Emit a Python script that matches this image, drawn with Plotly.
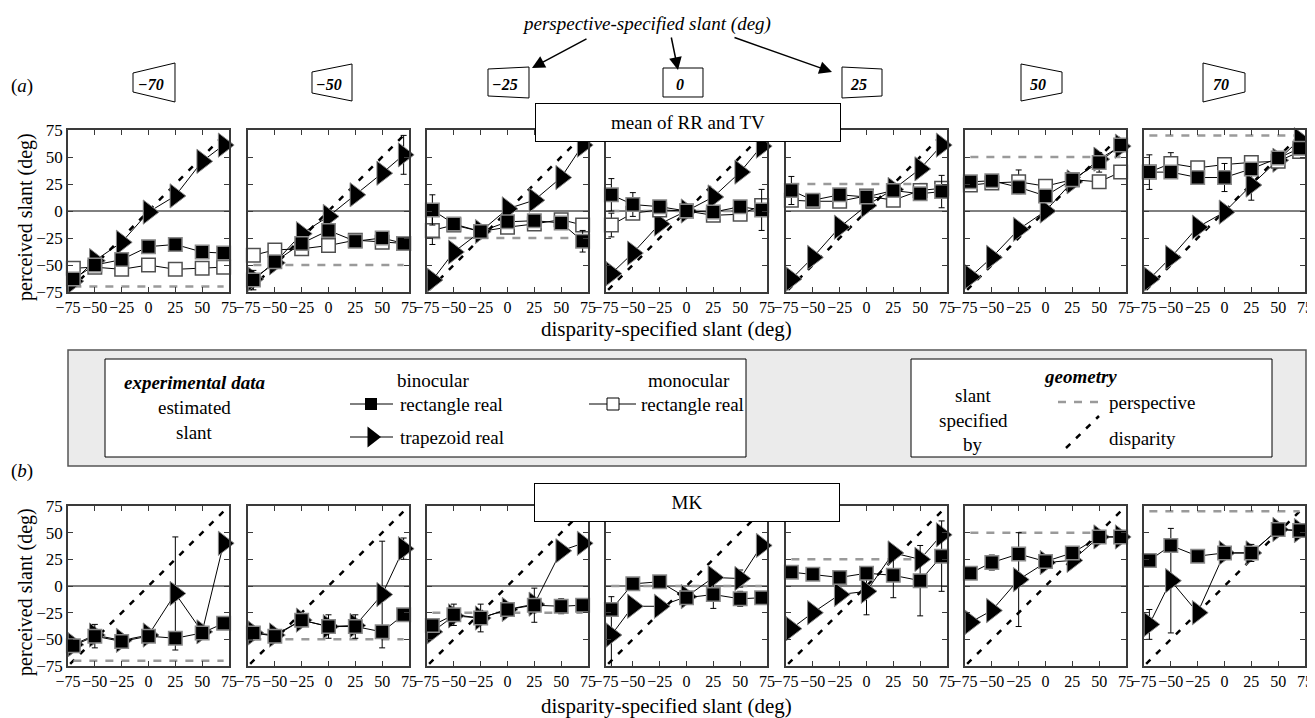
import plotly.graph_objects as go

# page is drawn with an 8px body margin: the figure is sized so that it ends at the window edge
VIEW_W, VIEW_H = 1315, 718
OFF = 8
W, H = VIEW_W - OFF, VIEW_H - OFF

# ---------------- data ----------------
X_SLANT = [-70, -50, -25, 0, 25, 50, 70]          # disparity-specified slant
PERSP_SLANT = [-70, -50, -25, 0, 25, 50, 70]      # perspective-specified slant (one per column)
TICK_VALS = [-75, -50, -25, 0, 25, 50, 75]
TICK_TEXT = ["−75", "−50", "−25", "0", "25", "50", "75"]
PERSP_LABELS = ["−70", "−50", "−25", "0", "25", "50", "70"]

# panel (a): mean of RR and TV
A_BINO_RECT = [
    [-63, -50, -45, -33, -31, -38, -39],
    [-64, -47, -30, -18, -28, -25, -30],
    [1, -12, -19, -10, -9, -11, -28],
    [15, 6, 4, 0, -1, 4, 1],
    [19, 10, 15, 13, 19, 16, 18],
    [27, 28, 22, 14, 29, 45, 61],
    [36, 36, 31, 31, 39, 49, 58],
]
A_MONO_RECT = [
    [-53, -52, -54, -50, -54, -53, -52],
    [-41, -36, -35, -32, -27, -29, -30],
    [-18, -13, -19, -15, -12, -8, -13],
    [-13, -2, 1, 0, -4, -3, 5],
    [10, 9, 9, 14, 10, 19, 21],
    [24, 26, 27, 23, 29, 27, 36],
    [36, 44, 40, 43, 45, 46, 55],
]
A_BINO_TRAP = [
    [-65, -46, -29, -1, 14, 46, 61],
    [-63, -48, -21, -5, 15, 35, 52],
    [-64, -38, -19, 2, 10, 31, 61],
    [-58, -39, -12, 0, 13, 36, 60],
    [-63, -43, -15, 5, 20, 39, 61],
    [-61, -43, -17, 0, 27, 48, 60],
    [-63, -43, -15, -1, 24, 47, 66],
]
A_BINO_RECT_ERR = [
    [0, 0, 0, 0, 0, 0, 0],
    [9, 0, 0, 0, 0, 0, 0],
    [14, 0, 0, 0, 0, 0, 10],
    [15, 11, 0, 0, 0, 0, 19],
    [13, 0, 0, 0, 0, 0, 15],
    [0, 0, 0, 0, 0, 9, 0],
    [16, 0, 0, 13, 0, 0, 0],
]
A_MONO_RECT_ERR = [
    [0, 0, 0, 0, 0, 0, 0],
    [0, 0, 0, 0, 0, 0, 0],
    [13, 0, 0, 0, 0, 0, 0],
    [11, 0, 0, 0, 0, 0, 0],
    [0, 0, 0, 0, 0, 0, 0],
    [0, 0, 11, 0, 0, 0, 0],
    [0, 10, 0, 0, 0, 0, 0],
]
A_BINO_TRAP_ERR = [
    [0, 0, 0, 0, 0, 0, 0],
    [0, 0, 0, 0, 0, 0, 18],
    [0, 0, 0, 0, 0, 0, 0],
    [0, 0, 0, 0, 0, 0, 0],
    [0, 0, 0, 0, 0, 0, 0],
    [0, 0, 0, 0, 0, 0, 0],
    [0, 0, 0, 0, 14, 0, 0],
]

# panel (b): MK
B_BINO_RECT = [
    [-56, -47, -52, -47, -49, -44, -35],
    [-44, -47, -32, -38, -38, -43, -27],
    [-37, -27, -30, -22, -18, -19, -18],
    [-22, 2, 4, -11, -8, -12, -11],
    [13, 11, 8, 12, 10, 5, 28],
    [12, 22, 30, 23, 31, 46, 46],
    [24, 38, 28, 31, 31, 53, 52],
]
B_BINO_TRAP = [
    [-55, -46, -51, -46, -7, -43, 40],
    [-44, -46, -32, -38, -37, -8, 35],
    [-43, -28, -30, -22, -17, 33, 40],
    [-46, -19, -19, -10, 8, 7, 38],
    [-40, -25, -8, -5, 31, 25, 48],
    [-34, -23, 6, 22, 24, 46, 46],
    [-36, 5, -25, 31, 31, 53, 52],
]
B_BINO_RECT_ERR = [
    [0, 11, 0, 0, 0, 0, 0],
    [0, 0, 0, 11, 11, 0, 0],
    [0, 10, 13, 0, 16, 7, 0],
    [0, 0, 0, 0, 13, 7, 0],
    [0, 0, 0, 0, 21, 33, 33],
    [0, 7, 0, 0, 0, 0, 0],
    [0, 0, 0, 0, 8, 0, 0],
]
B_BINO_TRAP_ERR = [
    [0, 0, 0, 0, 53, 0, 0],
    [0, 0, 0, 0, 0, 50, 10],
    [0, 0, 0, 0, 0, 0, 0],
    [36, 0, 0, 0, 0, 8, 0],
    [0, 0, 0, 22, 0, 0, 0],
    [0, 0, 44, 0, 0, 0, 0],
    [14, 49, 0, 0, 0, 0, 0],
]

# ---------------- layout helpers ----------------
FONT = "Liberation Serif"
COL_LEFT = [68, 248, 427, 606, 786, 965, 1144]   # window pixels
PLOT_W = 161
ROW_TB = [(130, 292), (506, 666)]


def fx(x):
    return (x - OFF) / W


def fy(y):
    return 1 - (y - OFF) / H


def err(vals):
    return [v if v else None for v in vals]


fig = go.Figure()
layout = dict(
    width=W, height=H, margin=dict(l=0, r=0, t=0, b=0, pad=0, autoexpand=False),
    paper_bgcolor="white", plot_bgcolor="rgba(0,0,0,0)", showlegend=False,
    font=dict(family=FONT, size=15, color="black"),
)
shapes = []
annotations = []

AXCOL = "#3a3a3a"
TICKFONT = dict(family=FONT, size=16)

panels = [
    dict(bino=A_BINO_RECT, mono=A_MONO_RECT, trap=A_BINO_TRAP,
         bino_e=A_BINO_RECT_ERR, mono_e=A_MONO_RECT_ERR, trap_e=A_BINO_TRAP_ERR),
    dict(bino=B_BINO_RECT, mono=None, trap=B_BINO_TRAP,
         bino_e=B_BINO_RECT_ERR, mono_e=None, trap_e=B_BINO_TRAP_ERR),
]

k = 0
for r, (top, bot) in enumerate(ROW_TB):
    P = panels[r]
    for c in range(7):
        k += 1
        sx = "" if k == 1 else str(k)
        xr, yr = "x" + sx, "y" + sx
        left = COL_LEFT[c]
        layout["xaxis" + sx] = dict(
            domain=[fx(left), fx(left + PLOT_W)], anchor=yr, range=[-75, 75],
            tickmode="array", tickvals=TICK_VALS, ticktext=TICK_TEXT, tickangle=0,
            ticklabeloverflow="allow",
            ticks="inside", ticklen=5, tickwidth=1, tickcolor=AXCOL,
            showline=True, linecolor=AXCOL, linewidth=1.5, mirror="ticks",
            showgrid=False, zeroline=False, fixedrange=True, automargin=False,
            tickfont=TICKFONT,
        )
        layout["yaxis" + sx] = dict(
            domain=[fy(bot), fy(top)], anchor=xr, range=[-75, 75],
            tickmode="array", tickvals=TICK_VALS, ticktext=TICK_TEXT, tickangle=0,
            ticklabeloverflow="allow",
            showticklabels=(c == 0),
            ticks="inside", ticklen=5, tickwidth=1, tickcolor=AXCOL,
            showline=True, linecolor=AXCOL, linewidth=1.5, mirror="ticks",
            showgrid=False, zeroline=False, fixedrange=True, automargin=False,
            tickfont=dict(family=FONT, size=17),
        )
        # zero line
        shapes.append(dict(type="line", xref=xr, yref=yr, x0=-75, x1=75, y0=0, y1=0,
                           line=dict(color="black", width=1), layer="below"))
        # geometry: disparity-specified slant (y = x)
        fig.add_trace(go.Scatter(
            x=[TICK_VALS[0] + 2, TICK_VALS[-1] - 2], y=[TICK_VALS[0] + 2, TICK_VALS[-1] - 2],
            xaxis=xr, yaxis=yr, mode="lines",
            line=dict(color="black", width=2.5, dash="6px,8px"), hoverinfo="skip"))
        # geometry: perspective-specified slant (horizontal)
        ps = PERSP_SLANT[c]
        fig.add_trace(go.Scatter(
            x=[X_SLANT[0], X_SLANT[-1]], y=[ps, ps],
            xaxis=xr, yaxis=yr, mode="lines",
            line=dict(color="#9a9a9a", width=2.5, dash="8px,8px"), hoverinfo="skip"))
        # binocular trapezoid
        fig.add_trace(go.Scatter(
            x=X_SLANT, y=P["trap"][c], xaxis=xr, yaxis=yr, mode="lines+markers",
            line=dict(color="black", width=1),
            marker=dict(symbol="triangle-right", size=21, color="black",
                        line=dict(color="#8a8a8a", width=1)),
            error_y=dict(type="data", array=err(P["trap_e"][c]), color="black",
                         thickness=1, width=3),
            cliponaxis=False))
        # monocular rectangle
        if P["mono"] is not None:
            fig.add_trace(go.Scatter(
                x=X_SLANT, y=P["mono"][c], xaxis=xr, yaxis=yr, mode="lines+markers",
                line=dict(color="black", width=1),
                marker=dict(symbol="square", size=13.5, color="white",
                            line=dict(color="#505050", width=1.5)),
                error_y=dict(type="data", array=err(P["mono_e"][c]), color="black",
                             thickness=1, width=3),
                cliponaxis=False))
        # binocular rectangle
        fig.add_trace(go.Scatter(
            x=X_SLANT, y=P["bino"][c], xaxis=xr, yaxis=yr, mode="lines+markers",
            line=dict(color="black", width=1),
            marker=dict(symbol="square", size=13.5, color="black",
                        line=dict(color="#8a8a8a", width=1.5)),
            error_y=dict(type="data", array=err(P["bino_e"][c]), color="black",
                         thickness=1, width=3),
            cliponaxis=False))

# overlay axis (window-pixel coordinates) for legend samples
layout["xaxis15"] = dict(domain=[0, 1], range=[OFF, VIEW_W], visible=False, anchor="y15",
                         fixedrange=True, automargin=False)
layout["yaxis15"] = dict(domain=[0, 1], range=[VIEW_H, OFF], visible=False, anchor="x15",
                         fixedrange=True, automargin=False)


def ann(text, x, y, size=19, xanchor="center", **kw):
    d = dict(text=text, x=fx(x), y=fy(y), xref="paper", yref="paper", showarrow=False,
             xanchor=xanchor, yanchor="middle", font=dict(family=FONT, size=size, color="black"))
    d.update(kw)
    annotations.append(d)


def rect(x0, y0, x1, y1, fill="white", line="black", width=1, layer="below"):
    shapes.append(dict(type="rect", xref="paper", yref="paper", x0=fx(x0), x1=fx(x1),
                       y0=fy(y1), y1=fy(y0), fillcolor=fill,
                       line=dict(color=line, width=width), layer=layer))


# axis titles
for (top, bot) in ROW_TB:
    ann("perceived slant (deg)", 25, (top + bot) / 2 + 6, size=20, textangle=-90)
ann("disparity-specified slant (deg)", 666, 329, size=21)
ann("disparity-specified slant (deg)", 666, 706, size=21)
ann("(<i>a</i>)", 22, 86, size=19)
ann("(<i>b</i>)", 22, 471, size=19)

# data-set labels
ann("mean of RR and TV", 688, 122.5, size=19, width=304, height=37,
    bgcolor="white", bordercolor="black", borderwidth=1, borderpad=0)
ann("MK", 687, 502.5, size=19, width=304, height=37,
    bgcolor="white", bordercolor="black", borderwidth=1, borderpad=0)

# perspective trapezoids header
TRAP_BOX = [  # x0, x1, (left edge y0,y1), (right edge y0,y1)
    (133, 175, (73, 92), (63, 102)),
    (312, 352, (72, 93), (64, 101)),
    (488, 529, (69, 96), (67, 98)),
    (663, 703, (68, 97), (68, 97)),
    (842, 882, (67, 98), (69, 96)),
    (1021, 1062, (64, 101), (72, 93)),
    (1203, 1245, (63, 102), (73, 92)),
]
for i, (x0, x1, le, re) in enumerate(TRAP_BOX):
    path = "M {:.5f},{:.5f} L {:.5f},{:.5f} L {:.5f},{:.5f} L {:.5f},{:.5f} Z".format(
        fx(x0), fy(le[0]), fx(x1), fy(re[0]), fx(x1), fy(re[1]), fx(x0), fy(le[1]))
    shapes.append(dict(type="path", xref="paper", yref="paper", path=path,
                       line=dict(color="black", width=1), fillcolor="white", layer="above"))
    ann("<b><i>" + PERSP_LABELS[i] + "</i></b>", x0 + (x1 - x0) * 0.42, 85, size=16)

ann("<i>perspective-specified slant (deg)</i>", 646, 24, size=19)
for (tx, ty), (hx, hy) in [((588, 38), (532, 68)), ((671, 36), (678, 70)), ((733, 37), (832, 72))]:
    annotations.append(dict(text="", x=fx(hx), y=fy(hy), xref="paper", yref="paper",
                            showarrow=True, ax=tx - hx, ay=ty - hy, axref="pixel", ayref="pixel",
                            arrowhead=2, arrowsize=1.7, arrowwidth=1.5, arrowcolor="black"))

# legend
rect(68, 350, 1306, 466, fill="#ebebeb", line="#555555", width=1.5)
rect(105, 359, 746, 457)
rect(911, 359, 1272, 457)

ann("<b><i>experimental data</i></b>", 194, 382)
ann("estimated", 194, 407)
ann("slant", 194, 432)
ann("binocular", 433, 380)
ann("rectangle real", 398, 404, xanchor="left")
ann("trapezoid real", 398, 437, xanchor="left")
ann("monocular", 689, 380)
ann("rectangle real", 639, 404, xanchor="left")

ann("<b><i>geometry</i></b>", 1080, 376)
ann("slant", 973, 395)
ann("specified", 973, 420)
ann("by", 973, 445)
ann("perspective", 1107, 402, xanchor="left")
ann("disparity", 1107, 438, xanchor="left")

for (x0, x1, y) in [(350, 393, 404), (350, 393, 437), (589, 636, 404)]:
    shapes.append(dict(type="line", xref="paper", yref="paper", x0=fx(x0), x1=fx(x1),
                       y0=fy(y), y1=fy(y), line=dict(color="black", width=1), layer="below"))
shapes.append(dict(type="line", xref="paper", yref="paper", x0=fx(1058), x1=fx(1104),
                   y0=fy(402), y1=fy(402), line=dict(color="#9a9a9a", width=2.5, dash="8px,8px"),
                   layer="below"))
shapes.append(dict(type="line", xref="paper", yref="paper", x0=fx(1066), x1=fx(1099),
                   y0=fy(448), y1=fy(416), line=dict(color="black", width=2.5, dash="6px,8px"),
                   layer="below"))

fig.add_trace(go.Scatter(x=[371], y=[404], xaxis="x15", yaxis="y15", mode="markers",
                         marker=dict(symbol="square", size=12, color="black"), hoverinfo="skip"))
fig.add_trace(go.Scatter(x=[613], y=[404], xaxis="x15", yaxis="y15", mode="markers",
                         marker=dict(symbol="square", size=12, color="white",
                                     line=dict(color="black", width=1)), hoverinfo="skip"))
fig.add_trace(go.Scatter(x=[372], y=[437], xaxis="x15", yaxis="y15", mode="markers",
                         marker=dict(symbol="triangle-right", size=18, color="black"),
                         hoverinfo="skip"))

layout["shapes"] = shapes
layout["annotations"] = annotations
fig.update_layout(**layout)
fig.write_html("out.html")
